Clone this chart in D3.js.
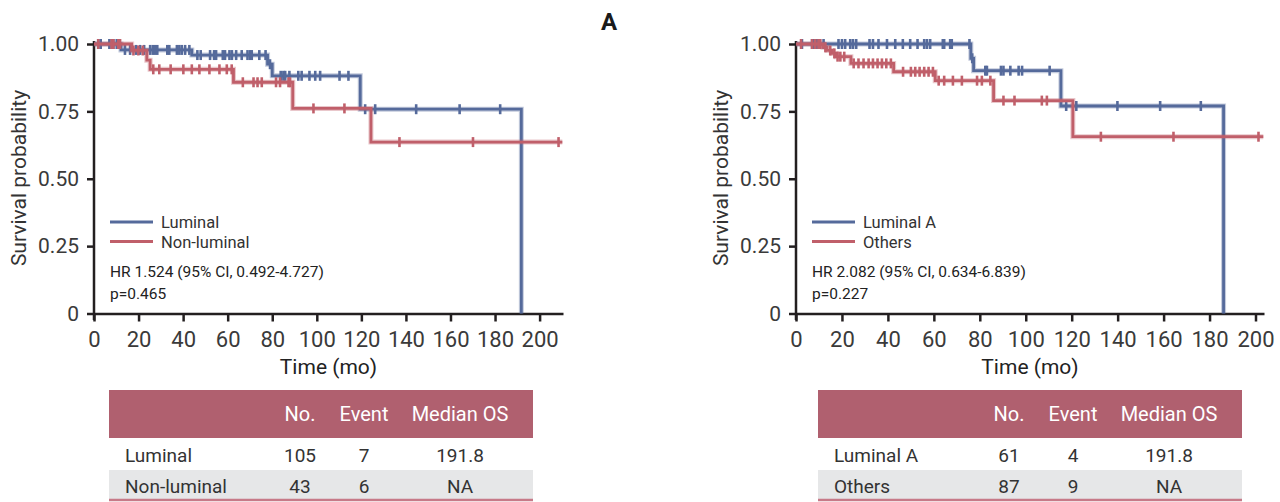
<html>

<head>
    <meta charset="utf-8">
    <title>Kaplan-Meier OS</title>
    <style>
        body { margin: 0; background: #fff; }
        text { font-family: Roboto, "Noto Sans", sans-serif; }
    </style>
</head>

<body>
    <script src="https://cdn.jsdelivr.net/npm/d3@7/dist/d3.min.js"></script>
    <script>

        var width = 1280, height = 502;
        var blue = "#556a9b", red = "#c05f6a";

        // axis ticks
        var xTicks = [0, 20, 40, 60, 80, 100, 120, 140, 160, 180, 200];
        var yTicks = [0, 0.25, 0.5, 0.75, 1];

        // left panel : Luminal vs Non-luminal
        var lumEventT = [12.1, 43.9, 77.9, 80.0, 119.5, 191.8];
        var lumEventS = [0.978, 0.959, 0.925, 0.882, 0.758, 0];
        var lumCensor = [1.9, 3.0, 6.9, 8.0, 8.7, 10.2, 11.4, 13.9, 16.2, 18.9, 20.7, 22.5, 25.2, 26.4, 27.4, 28.4,
            32.9, 33.8, 37.2, 38.3, 39.4, 40.9, 42.8, 46.4, 47.9, 52.1, 53.9, 54.8, 57.8, 58.8, 60.8, 61.9, 63.8,
            66.3, 68.9, 70.1, 70.8, 74.2, 77.0, 79.0, 83.8, 85.0, 85.8, 87.7, 91.7, 93.2, 96.7, 99.3, 101.5,
            110.2, 114.2, 121.7, 126.2, 144.6, 164.1, 182.3];
        var nonLumEventT = [16.9, 23.7, 25.2, 62.6, 89.2, 124.3];
        var nonLumEventS = [0.976, 0.940, 0.906, 0.858, 0.761, 0.636];
        var nonLumCensor = [1.9, 7.9, 8.7, 10.9, 11.7, 17.7, 19.9, 21.9, 26.6, 29.3, 34.4, 40.1, 43.9, 47.3, 51.8,
            56.3, 59.6, 61.8, 66.8, 71.6, 73.4, 75.3, 81.7, 83.5, 87.3, 88.0, 98.5, 112.4, 137.1, 170.1, 208.5];

        // right panel : Luminal A vs Others
        var lumAEventT = [76.1, 77.3, 115.3, 186.1];
        var lumAEventS = [0.947, 0.901, 0.770, 0];
        var lumACensor = [2.6, 7.0, 7.7, 9.1, 12.0, 18.5, 20.0, 21.4, 23.6, 24.8, 26.2, 32.0, 33.5, 35.9, 39.6,
            43.2, 46.5, 49.7, 52.9, 55.8, 57.0, 58.4, 63.9, 64.5, 67.1, 67.8, 75.5, 76.7, 82.4, 83.1, 89.2, 90.3,
            93.3, 96.9, 98.4, 110.4, 117.6, 122.0, 139.9, 158.5, 176.2];
        var othersEventT = [11.7, 13.5, 15.7, 17.5, 23.9, 42.5, 60.6, 86.0, 120.5];
        var othersEventS = [0.988, 0.976, 0.965, 0.953, 0.928, 0.897, 0.864, 0.790, 0.656];
        var othersCensor = [2.2, 7.0, 8.4, 9.8, 10.6, 12.8, 14.9, 16.7, 18.1, 19.3, 21.0, 25.1, 27.2, 29.4, 31.6,
            33.5, 35.5, 37.4, 39.3, 41.3, 46.6, 50.0, 51.9, 53.8, 55.8, 57.7, 59.6, 62.1, 64.5, 68.3, 72.2, 78.8,
            80.9, 84.6, 90.3, 95.1, 107.0, 109.2, 132.7, 164.3, 201.3];

        // table contents
        var tableHead = ["No.", "Event", "Median OS"];
        var leftRows = [["Luminal", "105", "7", "191.8"], ["Non-luminal", "43", "6", "NA"]];
        var rightRows = [["Luminal A", "61", "4", "191.8"], ["Others", "87", "9", "NA"]];

        var svg = d3.select("body").append("svg")
            .attr("width", width)
            .attr("height", height);

        // panel title
        svg.append("text").attr("x", 609).attr("y", 30)
            .attr("text-anchor", "middle")
            .style("font-size", "24px").style("font-weight", "bold")
            .attr("fill", "#1a1a1a").text("A");

        var y = d3.scaleLinear().domain([0, 1]).range([313.5, 44]);

        function survAt(ts, ss, t) {
            var s = 1;
            for (var i = 0; i < ts.length; i++) if (ts[i] <= t) s = ss[i];
            return s;
        }

        function drawPanel(opt) {
            var x = d3.scaleLinear().domain([0, opt.tMax]).range([opt.x0, opt.x1]);
            var g = svg.append("g");

            // y axis
            var ya = g.append("g").attr("transform", "translate(" + opt.x0 + ",0)")
                .call(d3.axisLeft(y).tickValues(yTicks).tickSize(7).tickPadding(8).tickSizeOuter(0)
                    .tickFormat(d => d === 0 ? "0" : d3.format(".2f")(d)));
            ya.select(".domain").remove();
            ya.selectAll("line").attr("stroke", "#231f20").attr("stroke-width", 2.5);
            ya.selectAll("text").style("font-size", "21px").attr("fill", "#3a3a3a");
            g.append("line").attr("x1", opt.x0).attr("x2", opt.x0).attr("y1", 41).attr("y2", 320)
                .attr("stroke", "#231f20").attr("stroke-width", 2.5);

            // x axis
            var xa = g.append("g").attr("transform", "translate(0," + y(0) + ")")
                .call(d3.axisBottom(x).tickValues(xTicks).tickSize(8).tickSizeOuter(0));
            xa.select(".domain").attr("stroke", "#231f20").attr("stroke-width", 2.5);
            xa.selectAll("line").attr("stroke", "#231f20").attr("stroke-width", 2.5);
            xa.selectAll("text").attr("dy", null).attr("y", 33)
                .style("font-size", "22px").attr("fill", "#3a3a3a");

            g.append("text").attr("x", (opt.x0 + opt.x1) / 2).attr("y", 374)
                .attr("text-anchor", "middle").style("font-size", "21px").attr("fill", "#222")
                .text("Time (mo)");
            g.append("text").attr("transform", "translate(" + (opt.x0 - 68) + ",178) rotate(-90)")
                .attr("text-anchor", "middle").style("font-size", "21px").attr("fill", "#333")
                .text("Survival probability");

            // curves
            var line = d3.line().x(d => x(d[0])).y(d => y(d[1])).curve(d3.curveStepAfter);
            opt.curves.forEach(function (c) {
                var pts = [[0, 1]];
                c.t.forEach((t, i) => pts.push([t, c.s[i]]));
                if (c.s[c.s.length - 1] > 0) pts.push([opt.tMax - 0.3, c.s[c.s.length - 1]]);
                g.append("path").attr("d", line(pts)).attr("fill", "none")
                    .attr("stroke", c.color).attr("stroke-opacity", 0.35).attr("stroke-width", 5);
                g.append("path").attr("d", line(pts)).attr("fill", "none")
                    .attr("stroke", c.color).attr("stroke-width", 2.8);
                g.selectAll(null).data(c.censor).enter().append("line")
                    .attr("x1", d => x(d)).attr("x2", d => x(d))
                    .attr("y1", d => y(survAt(c.t, c.s, d)) - 5)
                    .attr("y2", d => y(survAt(c.t, c.s, d)) + 5)
                    .attr("stroke", c.color).attr("stroke-width", 2.6);
            });

            // legend
            var lg = g.append("g").attr("transform", "translate(" + (opt.x0 + 16) + ",0)");
            opt.curves.forEach(function (c, i) {
                var yy = 222 + i * 19.5;
                lg.append("line").attr("x1", 0).attr("x2", 43).attr("y1", yy).attr("y2", yy)
                    .attr("stroke", c.color).attr("stroke-width", 3);
                lg.append("text").attr("x", 51).attr("y", yy + 6).style("font-size", "16.5px")
                    .attr("fill", "#333").text(c.name);
            });
            lg.append("text").attr("x", 0).attr("y", 277).style("font-size", "15.5px")
                .attr("fill", "#222").text(opt.hr);
            lg.append("text").attr("x", 0).attr("y", 299).style("font-size", "15.5px")
                .attr("fill", "#222").text(opt.p);

            // summary table
            var tb = g.append("g").attr("transform", "translate(" + opt.tx + ",0)");
            var tw = 424, cols = [191, 255, 351];
            tb.append("rect").attr("x", 0).attr("y", 390).attr("width", tw).attr("height", 48)
                .attr("fill", "#b0606f");
            tb.append("rect").attr("x", 0).attr("y", 470).attr("width", tw).attr("height", 29)
                .attr("fill", "#e6e7e8");
            tb.append("line").attr("x1", 0).attr("x2", tw).attr("y1", 500).attr("y2", 500)
                .attr("stroke", "#c77a88").attr("stroke-width", 2.5);
            tableHead.forEach(function (h, i) {
                tb.append("text").attr("x", cols[i]).attr("y", 421).attr("text-anchor", "middle")
                    .style("font-size", "20px").attr("fill", "#fff").text(h);
            });
            opt.rows.forEach(function (r, j) {
                var by = j === 0 ? 462 : 493;
                tb.append("text").attr("x", 16).attr("y", by).style("font-size", "19px")
                    .attr("fill", "#333").text(r[0]);
                r.slice(1).forEach(function (v, i) {
                    tb.append("text").attr("x", cols[i]).attr("y", by).attr("text-anchor", "middle")
                        .style("font-size", "19px").attr("fill", "#333").text(v);
                });
            });
        }

        drawPanel({
            x0: 94, x1: 563, tMax: 210.5, tx: 109,
            curves: [
                { name: "Luminal", color: blue, t: lumEventT, s: lumEventS, censor: lumCensor },
                { name: "Non-luminal", color: red, t: nonLumEventT, s: nonLumEventS, censor: nonLumCensor }
            ],
            hr: "HR 1.524 (95% CI, 0.492-4.727)", p: "p=0.465", rows: leftRows
        });
        drawPanel({
            x0: 796, x1: 1264, tMax: 203.7, tx: 818,
            curves: [
                { name: "Luminal A", color: blue, t: lumAEventT, s: lumAEventS, censor: lumACensor },
                { name: "Others", color: red, t: othersEventT, s: othersEventS, censor: othersCensor }
            ],
            hr: "HR 2.082 (95% CI, 0.634-6.839)", p: "p=0.227", rows: rightRows
        });
    </script>
</body>

</html>
